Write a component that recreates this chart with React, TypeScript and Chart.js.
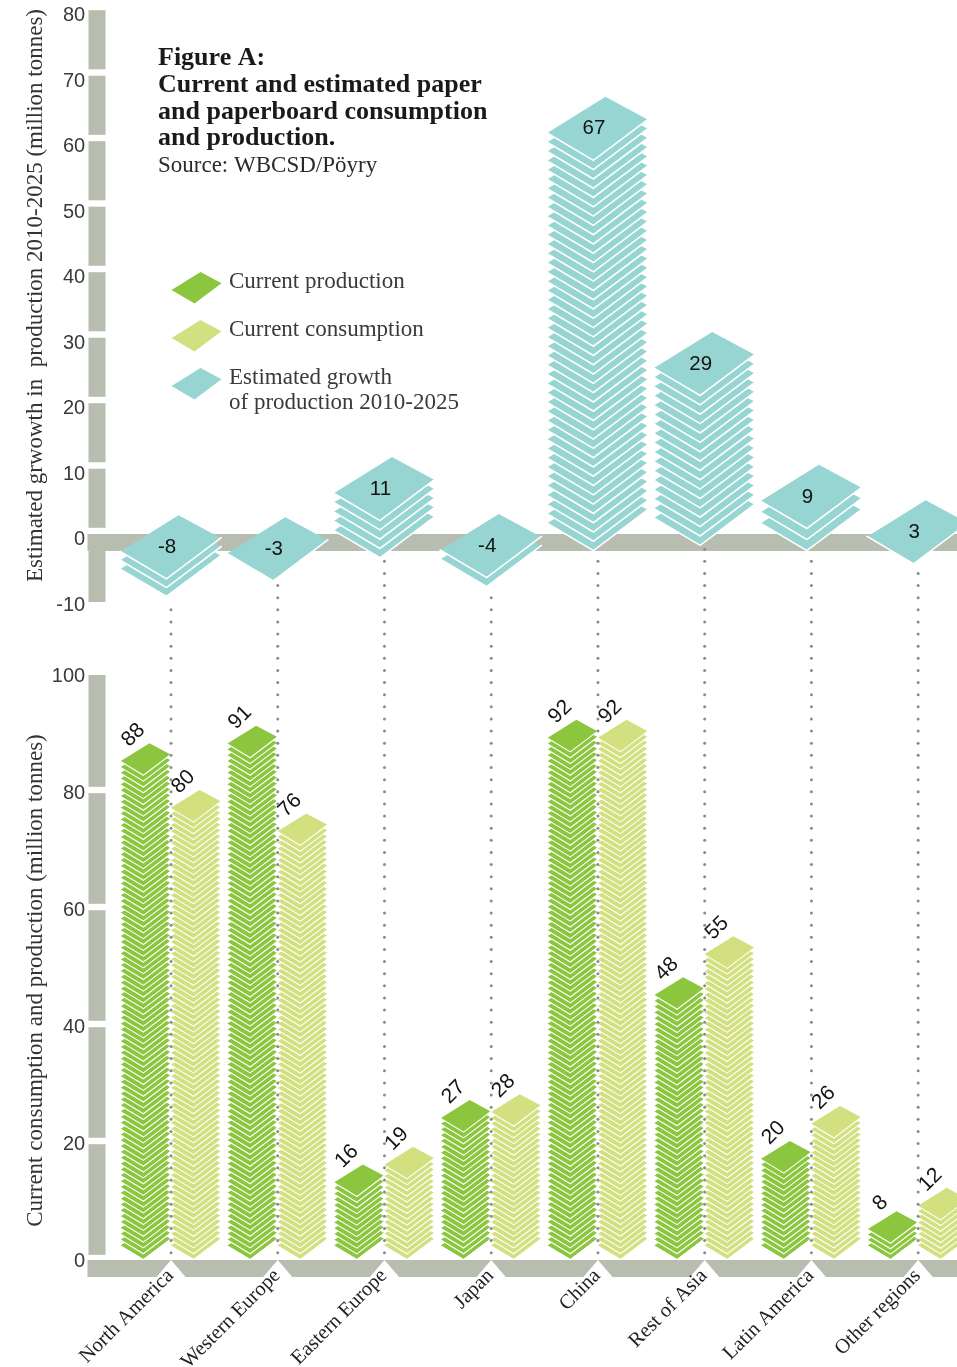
import React, { useEffect, useRef } from "react";
import { Chart, registerables } from "chart.js";

Chart.register(...registerables);

// ---- data ----
const regions = ["North America", "Western Europe", "Eastern Europe", "Japan", "China", "Rest of Asia", "Latin America", "Other regions"];
const production = [88, 91, 16, 27, 92, 48, 20, 8];
const consumption = [80, 76, 19, 28, 92, 55, 26, 12];
const growth = [-8, -3, 11, -4, 67, 29, 9, 3];
// the drawn extent of each stack of sheets, as read on the upper axis
const growthStackTop = [2.4, 2.1, 11.3, 2.6, 66.3, 30.4, 10.1, 4.7];
const growthStackBottom = [-9.9, -7.3, -4.0, -8.4, -2.9, -2.1, -2.9, -4.7];
const growthTicks = [80, 70, 60, 50, 40, 30, 20, 10, 0, -10];
const amountTicks = [100, 80, 60, 40, 20, 0];

const titleLines = ["Figure A:", "Current and estimated paper", "and paperboard consumption", "and production."];
const sourceLine = "Source: WBCSD/Pöyry";
const legendItems = [
  { color: "#8cc63f", lines: ["Current production"] },
  { color: "#d2e07f", lines: ["Current consumption"] },
  { color: "#97d5d2", lines: ["Estimated growth", "of production 2010-2025"] },
];
const upperAxisTitle = "Estimated grwowth in  production 2010-2025 (million tonnes)";
const lowerAxisTitle = "Current consumption and production (million tonnes)";

// ---- style ----
const GREEN = "#8cc63f";
const LIME = "#d2e07f";
const TEAL = "#97d5d2";
const GREY = "#b7beb0";
const DOT = "#8b8b90";
const SERIF = '"Liberation Serif", serif';
const SANS = '"Liberation Sans", sans-serif';
const UPPER_H = 640;
const LOWER_H = 727;
const CANVAS_W = 971;
const DOT_LAST = 1252.7;
const DOT_STEP = 12.13;

function sheet(ctx: CanvasRenderingContext2D, x: number, y: number, w: number, h: number, fill: string) {
  ctx.beginPath();
  ctx.moveTo(x, y + h * 0.575);
  ctx.lineTo(x + w * 0.58, y);
  ctx.lineTo(x + w, y + h * 0.36);
  ctx.lineTo(x + w * 0.46, y + h);
  ctx.closePath();
  ctx.fillStyle = fill;
  ctx.fill();
}

function sheetEdge(ctx: CanvasRenderingContext2D, x: number, y: number, w: number, h: number, lw: number) {
  ctx.beginPath();
  ctx.moveTo(x - 1, y + h * 0.575 - 0.5);
  ctx.lineTo(x + w * 0.46, y + h + 0.6);
  ctx.lineTo(x + w + 1, y + h * 0.36 - 0.5);
  ctx.strokeStyle = "#ffffff";
  ctx.lineWidth = lw;
  ctx.stroke();
}

function drawStack(ctx: CanvasRenderingContext2D, el: any, sheetH: number, step: number, color: string, lw: number) {
  const top = Math.min(el.y, el.base);
  const bottom = Math.max(el.y, el.base);
  const x = el.x - el.width / 2;
  const n = Math.max(0, Math.round((bottom - top - sheetH) / step));
  const gap = n > 0 ? (bottom - top - sheetH) / n : 0;
  for (let i = n; i >= 0; i--) {
    const y = top + i * gap;
    sheet(ctx, x, y, el.width, sheetH, color);
    sheetEdge(ctx, x, y, el.width, sheetH, lw);
  }
}

function drawDots(ctx: CanvasRenderingContext2D, x: number, fromY: number, toY: number, originY: number) {
  ctx.fillStyle = DOT;
  for (let y = DOT_LAST; y >= fromY; y -= DOT_STEP) {
    if (y > toY) continue;
    ctx.beginPath();
    ctx.arc(x, y - originY, 1.5, 0, Math.PI * 2);
    ctx.fill();
  }
}

function rotatedText(ctx: CanvasRenderingContext2D, text: string, x: number, y: number, font: string, color: string) {
  ctx.save();
  ctx.translate(x, y);
  ctx.rotate(-Math.PI / 2);
  ctx.font = font;
  ctx.fillStyle = color;
  ctx.textAlign = "center";
  ctx.textBaseline = "middle";
  ctx.fillText(text, 0, 0);
  ctx.restore();
}

const upperPlugin = {
  id: "upperPaint",
  beforeDraw(chart: any) {
    const { ctx, scales } = chart;
    const y = scales.y;
    ctx.save();
    ctx.fillStyle = GREY;
    const zero = y.getPixelForValue(0);
    for (let i = 0; i < growthTicks.length - 2; i++) {
      const a = y.getPixelForValue(growthTicks[i]) + 3.2;
      const b = y.getPixelForValue(growthTicks[i + 1]) - 3.2;
      ctx.fillRect(88.5, a, 17, b - a);
    }
    ctx.fillRect(88.5, zero + 3, 17, y.getPixelForValue(-10) + 5.5 - zero - 3);
    ctx.fillRect(87.5, zero + 3, CANVAS_W, 17);
    ctx.restore();
  },
  afterDatasetsDraw(chart: any) {
    const { ctx } = chart;
    const els = chart.getDatasetMeta(0).data;
    ctx.save();
    els.forEach((el: any, i: number) => {
      const bottom = Math.max(el.y, el.base);
      drawDots(ctx, el.x + 0.5, bottom + 3, UPPER_H, 0);
      drawStack(ctx, el, 63, 9.2, TEAL, 1.6);
      const top = Math.min(el.y, el.base);
      ctx.font = `20.5px ${SANS}`;
      ctx.fillStyle = "#141414";
      ctx.textAlign = "center";
      ctx.textBaseline = "middle";
      ctx.fillText(String(growth[i]), el.x - 3.5, top + 32);
    });
    // heading
    ctx.fillStyle = "#1a1a1a";
    ctx.textAlign = "left";
    ctx.textBaseline = "alphabetic";
    ctx.font = `bold 26px ${SERIF}`;
    titleLines.forEach((line, i) => ctx.fillText(line, 158, 65 + i * 26.8));
    ctx.fillStyle = "#2a2a2a";
    ctx.font = `23px ${SERIF}`;
    ctx.fillText(sourceLine, 158, 172);
    // legend
    legendItems.forEach((item, i) => {
      const top = 272 + i * 48;
      sheet(ctx, 171.5, top, 50, 31.5, item.color);
      ctx.fillStyle = "#3a3a3a";
      ctx.font = `23px ${SERIF}`;
      item.lines.forEach((line, j) => ctx.fillText(line, 229, top + 16 + j * 25));
    });
    rotatedText(ctx, upperAxisTitle, 36, 295.5, `23px ${SERIF}`, "#333333");
    ctx.restore();
  },
};

const lowerPlugin = {
  id: "lowerPaint",
  beforeDraw(chart: any) {
    const { ctx, scales } = chart;
    const y = scales.y;
    const x = scales.x;
    ctx.save();
    ctx.fillStyle = GREY;
    for (let i = 0; i < amountTicks.length - 1; i++) {
      const a = y.getPixelForValue(amountTicks[i]) + (i === 0 ? 2 : 3.2);
      const b = y.getPixelForValue(amountTicks[i + 1]) - 3.2;
      ctx.fillRect(88.5, a, 17, b - a);
    }
    const bandTop = y.getPixelForValue(0) + 2;
    ctx.fillRect(87.5, bandTop, CANVAS_W, 17);
    ctx.fillStyle = "#ffffff";
    regions.forEach((_, i) => {
      const px = x.getPixelForValue(i) + 0.5;
      ctx.beginPath();
      ctx.moveTo(px, bandTop);
      ctx.lineTo(px - 15, bandTop + 17.5);
      ctx.lineTo(px + 15, bandTop + 17.5);
      ctx.closePath();
      ctx.fill();
    });
    ctx.restore();
  },
  afterDatasetsDraw(chart: any) {
    const { ctx } = chart;
    ctx.save();
    [0, 1].forEach((d) => {
      const color = d === 0 ? GREEN : LIME;
      const values = d === 0 ? production : consumption;
      chart.getDatasetMeta(d).data.forEach((el: any, i: number) => {
        drawStack(ctx, { x: el.x, y: el.y, base: el.base + 1, width: el.width }, 31.5, 5.85, color, 1.1);
        ctx.save();
        ctx.translate(el.x - el.width / 2 + 29 - 16, el.y - 8);
        ctx.rotate(-Math.PI / 4);
        ctx.font = `21px ${SANS}`;
        ctx.fillStyle = "#141414";
        ctx.textAlign = "center";
        ctx.textBaseline = "middle";
        ctx.fillText(String(values[i]), 0, 0);
        ctx.restore();
      });
    });
    chart.getDatasetMeta(0).data.forEach((el: any) => {
      drawDots(ctx, el.x + el.width / 2 + 0.5, UPPER_H, DOT_LAST + 1, UPPER_H);
    });
    rotatedText(ctx, lowerAxisTitle, 36, 980.5 - UPPER_H, `23px ${SERIF}`, "#333333");
    ctx.restore();
  },
};

function clearPadding(s: any) {
  s.paddingTop = 0;
  s.paddingBottom = 0;
  s.paddingLeft = 0;
  s.paddingRight = 0;
}

function yScale(min: number, max: number, step: number, labelOffset: number) {
  return {
    min,
    max,
    grid: { display: false, drawTicks: false },
    border: { display: false },
    afterFit: (s: any) => {
      s.width = 117.15;
      clearPadding(s);
    },
    ticks: {
      stepSize: step,
      padding: 32,
      labelOffset,
      color: "#3a3a3a",
      font: { family: SANS, size: 20 },
      autoSkip: false,
    },
  };
}

export default function App() {
  const upperRef = useRef<HTMLCanvasElement>(null);
  const lowerRef = useRef<HTMLCanvasElement>(null);

  useEffect(() => {
    const upper = new Chart(upperRef.current as HTMLCanvasElement, {
      type: "bar",
      plugins: [upperPlugin],
      data: {
        labels: regions,
        datasets: [
          {
            label: "Estimated growth of production 2010-2025",
            data: growthStackBottom.map((b, i) => [b, growthStackTop[i]]),
            backgroundColor: "transparent",
            categoryPercentage: 0.94,
            barPercentage: 1,
          },
        ],
      },
      options: {
        responsive: false,
        animation: false,
        devicePixelRatio: 1,
        layout: { padding: { top: 7, bottom: UPPER_H - 596.5, left: 0, right: 0 } },
        plugins: { legend: { display: false }, tooltip: { enabled: false } },
        scales: {
          x: { display: false },
          y: yScale(-10, 80, 10, 8.5),
        },
      } as any,
    });
    const lower = new Chart(lowerRef.current as HTMLCanvasElement, {
      type: "bar",
      plugins: [lowerPlugin],
      data: {
        labels: regions,
        datasets: [
          { label: "Current production", data: production, backgroundColor: "transparent", categoryPercentage: 0.94, barPercentage: 1 },
          { label: "Current consumption", data: consumption, backgroundColor: "transparent", categoryPercentage: 0.94, barPercentage: 1 },
        ],
      },
      options: {
        responsive: false,
        animation: false,
        devicePixelRatio: 1,
        layout: { padding: { top: 673 - UPPER_H, bottom: 0, left: 0, right: 0 } },
        plugins: { legend: { display: false }, tooltip: { enabled: false } },
        scales: {
          x: {
            grid: { display: false, drawTicks: false },
            border: { display: false },
            afterFit: (s: any) => {
              s.height = 109;
              clearPadding(s);
            },
            ticks: {
              minRotation: 45,
              maxRotation: 45,
              autoSkip: false,
              padding: 6,
              color: "#222222",
              font: { family: SERIF, size: 20.5 },
            },
          },
          y: yScale(0, 100, 20, 3.5),
        },
      } as any,
    });
    return () => {
      upper.destroy();
      lower.destroy();
    };
  }, []);

  return (
    <div style={{ position: "absolute", left: 0, top: 0, width: 957, height: 1367, overflow: "hidden", background: "#fff" }}>
      <canvas ref={upperRef} width={CANVAS_W} height={UPPER_H} style={{ position: "absolute", left: 0, top: 0 }} />
      <canvas ref={lowerRef} width={CANVAS_W} height={LOWER_H} style={{ position: "absolute", left: 0, top: UPPER_H }} />
    </div>
  );
}
